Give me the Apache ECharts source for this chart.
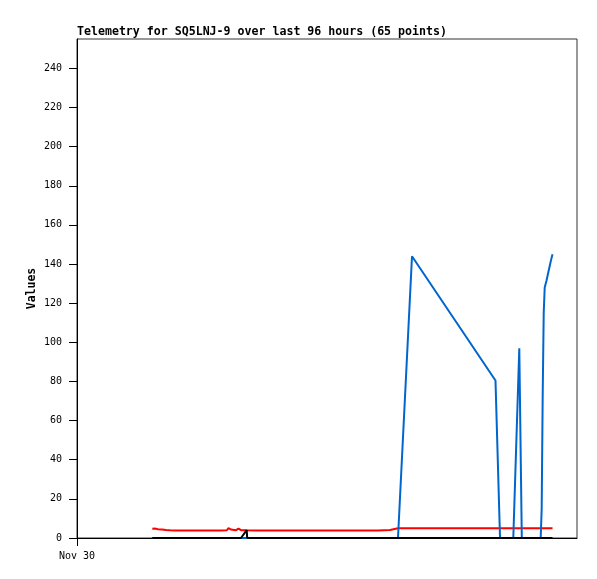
<!DOCTYPE html>
<html>
<head>
<meta charset="utf-8">
<script src="https://cdn.jsdelivr.net/npm/echarts@6/dist/echarts.min.js"></script>
<style>html,body{margin:0;padding:0;background:#fff}#c{width:597px;height:579px}</style>
</head>
<body>
<div id="c"></div>
<script>
// hours since Nov 30 00:00
const hours = [14.46,14.69,15.07,15.55,16.32,17.09,17.86,18.82,19.78,20.93,22.08,23.23,24.38,25.54,26.69,27.65,28.74,29.09,29.57,29.95,30.53,31.01,31.49,31.81,32.58,32.68,34.37,36.29,38.21,40.13,42.05,43.97,45.89,47.81,49.73,51.65,53.57,55.49,57.79,58.08,60.10,60.38,61.63,64.32,80.35,81.22,81.98,82.75,83.77,84.92,85.40,86.21,86.98,87.74,88.42,89.03,89.22,89.41,89.61,89.80,90.14,90.43,90.72,91.01,91.30];
const redValues = [4.7,4.1,4.8,4.5,4.4,4.1,3.9,3.8,3.8,3.8,3.8,3.8,3.8,3.8,3.8,3.8,3.9,5.0,4.3,5.0,4.0,4.8,4.0,3.9,3.9,3.8,3.8,3.8,3.8,3.8,3.8,3.8,3.8,3.8,3.8,3.8,3.8,3.8,3.8,4.1,4.1,5.0,5.0,5.0,5.0,5.0,5.0,5.0,5.0,5.0,5.0,5.0,5.0,5.0,5.0,5.0,5.0,5.0,5.0,5.0,5.0,5.0,5.0,5.0,5.0];
const blueValues = [0,0,0,0,0,0,0,0,0,0,0,0,0,0,0,0,0,0,0,0,0,0,0,0,0,0,0,0,0,0,0,0,0,0,0,0,0,0,0,0,0,0,0,144,80.5,0,0,0,0,97,0,0,0,0,0,0,15,72,115,128,131.5,135,138.5,142,145];
const blackValues = [0,0,0,0,0,0,0,0,0,0,0,0,0,0,0,0,0,0,0,0,0,0,0,0,4,0,0,0,0,0,0,0,0,0,0,0,0,0,0,0,0,0,0,0,0,0,0,0,0,0,0,0,0,0,0,0,0,0,0,0,0,0,0,0,0];
const yTicks = [0,20,40,60,80,100,120,140,160,180,200,220,240];
const xLabel = 'Nov 30';
const titleText = 'Telemetry for SQ5LNJ-9 over last 96 hours (65 points)';

const pairs = v => hours.map((h, i) => [h, v[i]]);
const mono = '"DejaVu Sans Mono", "Liberation Mono", monospace';

const chart = echarts.init(document.getElementById('c'));
chart.setOption({
  animation: false,
  backgroundColor: '#fff',
  title: {
    text: titleText,
    left: 72, top: 21,
    textStyle: { fontFamily: mono, fontSize: 11.6, fontWeight: 'bold', color: '#000' }
  },
  grid: { left: 77, top: 39, right: 20, bottom: 41, show: true, borderColor: '#333', borderWidth: 1, backgroundColor: 'transparent' },
  xAxis: {
    type: 'value', min: 0, max: 96, interval: 96,
    splitLine: { show: false },
    axisLine: { show: true, onZero: false, lineStyle: { color: '#000', width: 1 } },
    axisTick: { show: true, length: 8, customValues: [0], lineStyle: { color: '#000' } },
    axisLabel: { show: true, customValues: [0], margin: 13, fontFamily: mono, fontSize: 10, color: '#000',
      formatter: v => v === 0 ? xLabel : '' }
  },
  yAxis: {
    type: 'value', min: 0, max: 255,
    name: 'Values', nameLocation: 'middle', nameGap: 39, nameMoveOverlap: false,
    nameTextStyle: { fontFamily: mono, fontSize: 11.5, fontWeight: 'bold', color: '#000' },
    splitLine: { show: false },
    axisLine: { show: true, lineStyle: { color: '#000', width: 1 } },
    axisTick: { show: true, length: 8, customValues: yTicks, lineStyle: { color: '#000' } },
    axisLabel: { customValues: yTicks, margin: 15, fontFamily: mono, fontSize: 10, color: '#000' }
  },
  series: [
    { type: 'line', data: pairs(redValues), showSymbol: false, lineStyle: { color: '#ff0000', width: 2 }, z: 2 },
    { type: 'line', data: pairs(blueValues), showSymbol: false, lineStyle: { color: '#0066cc', width: 2 }, z: 3 },
    { type: 'line', data: pairs(blackValues), showSymbol: false, lineStyle: { color: '#000000', width: 2 }, z: 4 }
  ]
});
</script>
</body>
</html>
